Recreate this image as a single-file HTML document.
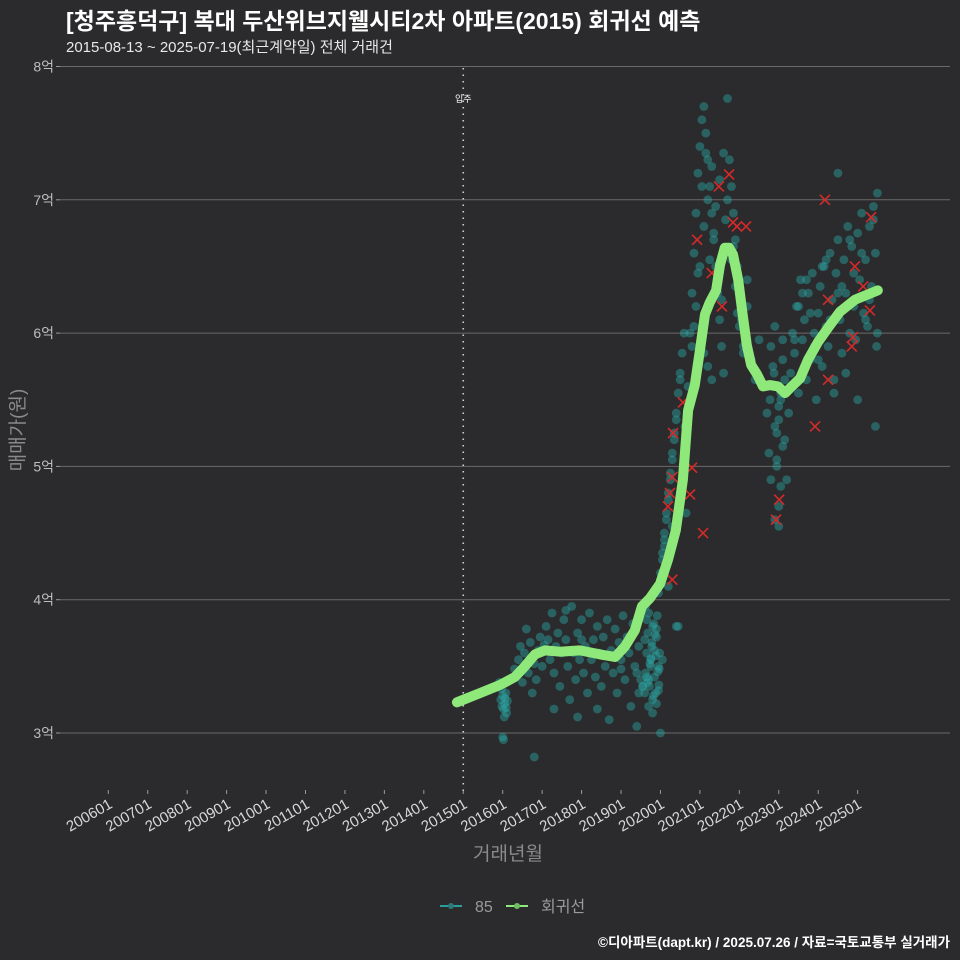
<!DOCTYPE html>
<html><head><meta charset="utf-8">
<style>
html,body{margin:0;padding:0;background:#2b2b2d;}
svg{display:block;font-family:"Liberation Sans","Noto Sans CJK KR",sans-serif;}
</style></head>
<body>
<svg id="chart" width="960" height="960" viewBox="0 0 960 960">
<rect x="0" y="0" width="960" height="960" fill="#2b2b2d"/>
<text x="66" y="29" font-size="23" font-weight="bold" fill="#ffffff">[청주흥덕구] 복대 두산위브지웰시티2차 아파트(2015) 회귀선 예측</text>
<text x="66" y="52" font-size="15" fill="#e8e8e8">2015-08-13 ~ 2025-07-19(최근계약일) 전체 거래건</text>
<g id="grid"></g>
<g id="yaxis"></g>
<g id="xaxis"></g>
<g id="marks"></g>
<text transform="translate(24,430) rotate(-90)" text-anchor="middle" font-size="19" fill="#8a8a8a">매매가(원)</text>
<text x="508" y="860" text-anchor="middle" font-size="19" fill="#8a8a8a">거래년월</text>
<g>
  <g>
    <line x1="440" y1="906" x2="462" y2="906" stroke="#2a9d9d" stroke-width="2"/>
    <circle cx="451" cy="906" r="3" fill="#2a7a7a"/>
    <text x="475" y="912" font-size="16" fill="#9a9a9a">85</text>
  </g>
  <g>
    <line x1="506" y1="906" x2="528" y2="906" stroke="#8ee87a" stroke-width="2"/>
    <circle cx="517" cy="906" r="3" fill="#6cc060"/>
    <text x="541" y="912" font-size="16" fill="#9a9a9a">회귀선</text>
  </g>
</g>
<text x="950" y="947" text-anchor="end" font-size="13.5" font-weight="bold" fill="#ffffff">©디아파트(dapt.kr) / 2025.07.26 / 자료=국토교통부 실거래가</text>
</svg>
<script>
const yTicks = [3, 4, 5, 6, 7, 8];
const xTickYears = [2006,2007,2008,2009,2010,2011,2012,2013,2014,2015,2016,2017,2018,2019,2020,2021,2022,2023,2024,2025];
const moveInYear = 2015.0;
const lineYears = [2014.84,2015.43,2015.93,2016.31,2016.56,2016.82,2017.07,2017.45,2017.96,2018.47,2018.85,2019.10,2019.35,2019.53,2019.73,2019.99,2020.19,2020.39,2020.57,2020.70,2020.87,2021.00,2021.13,2021.25,2021.41,2021.51,2021.63,2021.74,2021.84,2021.97,2022.07,2022.19,2022.30,2022.45,2022.60,2022.78,2022.98,2023.16,2023.33,2023.54,2023.74,2023.99,2024.25,2024.55,2024.93,2025.51];
const linePrices = [3.23,3.30,3.36,3.42,3.50,3.59,3.62,3.61,3.62,3.59,3.57,3.65,3.77,3.95,4.01,4.12,4.30,4.52,4.90,5.42,5.61,5.87,6.14,6.23,6.32,6.51,6.64,6.64,6.59,6.40,6.17,5.91,5.76,5.69,5.60,5.61,5.60,5.55,5.60,5.66,5.80,5.93,6.04,6.16,6.25,6.32];
const dealYears = [2015.95,2015.98,2016.0,2016.02,2016.05,2016.08,2016.1,2016.12,2015.97,2016.04,2016.0,2016.02,2015.92,2016.06,2016.09,
2016.3,2016.4,2016.5,2016.55,2016.65,2016.7,2016.8,2016.85,2016.9,2016.95,2017.0,2017.05,2016.75,2016.45,2016.6,2016.8,
2017.1,2017.15,2017.2,2017.25,2017.3,2017.35,2017.4,2017.45,2017.5,2017.55,2017.6,2017.65,2017.7,2017.75,2017.8,2017.85,2017.9,2017.95,2018.0,2018.05,2018.1,2018.15,2018.2,2018.25,2018.3,2018.35,2018.4,2018.45,2018.5,2018.55,2018.6,2018.65,2018.7,2018.75,2018.8,2018.85,2018.9,2018.95,2019.0,2019.05,2019.1,2019.15,2019.2,2019.25,2019.3,2019.35,2019.4,2019.45,2019.5,2019.55,2017.3,2017.9,2018.4,2017.2,2017.6,2018.0,2018.6,2019.0,
2019.6,2019.62,2019.65,2019.68,2019.7,2019.72,2019.75,2019.78,2019.8,2019.82,2019.85,2019.88,2019.9,2019.92,2019.95,2019.97,2019.6,2019.65,2019.7,2019.75,2019.8,2019.85,2019.9,2019.95,2019.62,2019.68,2019.73,2019.78,2019.83,2019.88,2019.93,2019.98,2019.66,2019.76,2019.86,2019.96,2019.7,2019.8,2019.9,2019.55,2019.5,2019.45,2019.4,2020.0,2020.05,2020.45,
2019.95,2020.0,2020.05,2020.1,2020.15,2020.2,2020.25,2020.3,2020.35,2020.4,2020.45,2020.5,2020.0,2020.05,2020.1,2020.15,2020.2,2020.25,2020.3,2020.35,2020.4,2020.5,2020.55,2020.6,2020.62,2020.65,2020.1,2020.2,2020.3,2020.4,
2020.7,2020.75,2020.8,2020.85,2020.9,2020.95,2021.0,2021.05,2021.1,2021.15,2021.2,2021.25,2021.3,2021.35,2021.4,2021.45,2021.5,2021.55,2021.6,2021.65,2021.7,2020.8,2020.9,2021.0,2021.1,2021.2,2021.3,2021.4,2021.5,2021.6,2021.7,2020.85,2020.95,2021.05,2021.15,2021.25,2021.35,2021.45,2021.55,2021.65,2021.2,2021.3,2021.1,
2021.75,2021.8,2021.85,2021.9,2021.95,2022.0,2022.05,2022.1,2022.15,2022.2,2021.8,2021.9,2022.0,2022.1,2022.2,2022.3,2022.4,2022.5,2021.85,2021.95,
2022.7,2022.75,2022.8,2022.85,2022.9,2022.95,2023.0,2023.05,2023.1,2023.15,2023.2,2022.8,2022.9,2023.0,2023.1,2022.85,2022.95,2023.05,2023.15,2022.9,2023.0,2022.95,2023.05,2022.88,2023.0,2023.1,2022.78,
2023.25,2023.3,2023.35,2023.4,2023.45,2023.5,2023.55,2023.6,2023.65,2023.7,2023.75,2023.8,2023.85,2023.9,2023.95,2024.0,2024.05,2024.1,2024.15,2024.2,2024.25,2024.3,2024.35,2024.4,2024.45,2024.5,2024.55,2024.6,2024.65,2024.7,2024.75,2024.8,2024.85,2024.9,2024.95,2025.0,2025.05,2025.1,2025.15,2025.2,2025.25,2025.3,2025.35,2025.4,2025.45,2025.5,2023.3,2023.5,2023.7,2023.9,2024.1,2024.3,2024.5,2024.7,2024.9,2025.1,2025.3,2025.5,2023.4,2023.6,2023.8,2024.0,2024.2,2024.4,2024.6,2024.8,2025.0,2025.2,2025.4,2024.5,2025.45,2025.48];
const dealPrices = [3.25,3.2,3.28,3.18,3.22,3.3,3.15,3.24,3.33,3.12,2.97,2.95,3.38,3.26,3.19,
3.48,3.55,3.38,3.6,3.45,3.68,3.52,3.4,3.62,3.72,3.5,3.66,3.3,3.65,3.78,2.82,
3.8,3.7,3.55,3.9,3.45,3.65,3.75,3.35,3.6,3.85,3.7,3.5,3.25,3.95,3.6,3.4,3.75,3.55,3.85,3.45,3.65,3.3,3.9,3.55,3.7,3.42,3.8,3.6,3.35,3.72,3.5,3.85,3.1,3.62,3.45,3.78,3.3,3.68,3.55,3.88,3.4,3.72,3.6,3.2,3.82,3.5,3.05,3.65,3.9,3.35,3.18,3.12,3.18,3.62,3.92,3.7,3.58,3.48,
3.3,3.45,3.6,3.75,3.9,3.35,3.5,3.65,3.8,3.28,3.42,3.58,3.72,3.88,3.32,3.48,3.7,3.85,3.4,3.55,3.25,3.62,3.78,3.5,3.95,3.38,3.52,3.68,3.82,3.3,3.46,3.6,3.42,3.56,3.74,3.36,3.2,3.15,3.22,3.35,3.4,3.3,3.45,3.0,3.55,3.8,
4.05,4.2,4.35,4.5,4.65,4.8,4.95,5.1,5.25,5.4,5.55,5.7,4.15,4.3,4.45,4.6,4.75,4.9,5.05,5.2,5.35,5.65,5.85,6.0,5.3,4.65,4.4,4.1,4.55,3.8,
5.6,6.0,6.3,6.6,6.9,7.2,7.4,7.6,7.7,7.5,7.3,7.1,6.9,6.7,6.5,6.3,6.1,5.9,5.7,6.6,7.0,5.9,6.2,6.5,6.8,7.0,7.25,6.95,7.15,7.35,7.76,6.05,6.45,7.1,7.35,6.55,6.75,6.4,6.25,6.85,5.75,5.65,5.85,
7.3,7.1,6.9,6.7,6.5,6.3,6.1,5.9,6.0,6.2,6.55,6.35,6.05,5.85,6.4,5.8,5.65,5.95,6.65,6.15,
5.4,5.1,4.9,5.6,5.3,5.0,4.7,5.5,5.8,5.2,4.9,5.9,6.05,5.45,5.15,5.75,5.25,4.85,5.65,4.6,5.35,5.05,5.55,5.7,4.55,5.95,5.5,
5.4,5.7,6.0,5.85,6.2,5.55,6.4,5.95,6.1,5.65,6.3,5.8,6.45,6.0,5.5,6.15,6.35,5.75,6.5,6.05,5.9,6.6,6.25,5.55,6.45,6.7,6.1,5.85,6.55,6.3,6.8,6.0,6.65,6.2,5.95,6.75,6.4,6.9,6.15,6.55,6.05,6.8,6.35,6.95,6.6,7.05,5.6,6.2,6.4,5.9,6.5,6.1,6.3,5.7,6.45,6.6,6.25,6.0,5.95,6.3,6.15,5.8,6.55,5.65,6.35,6.7,5.5,6.1,6.85,7.2,5.3,5.9];
const outlierYears = [2020.93,2021.30,2021.56,2021.48,2021.74,2021.84,2021.94,2022.17,2020.57,2020.32,2020.80,2020.30,2020.24,2020.19,2020.75,2021.08,2024.17,2025.34,2024.93,2025.14,2024.25,2025.31,2024.88,2024.85,2024.25,2023.92,2023.01,2022.93,2020.30];
const outlierPrices = [6.70,6.45,6.20,7.10,7.19,6.83,6.80,6.80,5.48,5.25,4.99,4.92,4.80,4.70,4.79,4.50,7.00,6.87,6.50,6.35,6.25,6.17,5.97,5.90,5.65,5.30,4.75,4.60,4.15];

const NS = "http://www.w3.org/2000/svg";
const xScale = yr => 108.3 + (yr - 2006) * 39.44;
const yScale = p => 733 - (p - 3) * 133.3;
function mk(tag, attrs, parent){ const e=document.createElementNS(NS,tag); for(const k in attrs) e.setAttribute(k,attrs[k]); parent.appendChild(e); return e; }
const grid=document.getElementById('grid'), yaxis=document.getElementById('yaxis'), xaxis=document.getElementById('xaxis'), marks=document.getElementById('marks');

yTicks.forEach(v=>{
  const y=yScale(v);
  const gl=mk('line',{x1:60,x2:950,y1:y,y2:y,stroke:'#6a6a6a','stroke-width':1},grid);
  
  
  mk('line',{x1:56,x2:60,y1:y,y2:y,stroke:'#9a9a9a'},yaxis);
  const t=mk('text',{x:54,y:y+5,'text-anchor':'end','font-size':14,fill:'#bdbdbd'},yaxis);
  t.textContent=v+'억';
  
  
});
xTickYears.forEach(yr=>{
  const x=xScale(yr);
  mk('line',{x1:x,x2:x,y1:790,y2:794,stroke:'#9a9a9a'},xaxis);
  const t=mk('text',{transform:`translate(${x+5},807) rotate(-30)`,'text-anchor':'end','font-size':15,fill:'#d8d8d8'},xaxis);
  t.textContent=yr+'01';
  
  
});
const mx=xScale(moveInYear);
const ml=mk('line',{x1:mx,x2:mx,y1:68,y2:792,stroke:'#cfcfcf','stroke-width':1.6,'stroke-dasharray':'1.5 5'},marks);


const mt=mk('text',{x:mx,y:102,'text-anchor':'middle','font-size':9,fill:'#ffffff'},marks);
mt.textContent='입주';



dealYears.forEach((yr,i)=>{
  const c=mk('circle',{cx:xScale(yr),cy:yScale(dealPrices[i]),r:4.4,fill:'#2aa7a4','fill-opacity':0.45},marks);
  
  
});
outlierYears.forEach((yr,i)=>{
  const x=xScale(yr), y=yScale(outlierPrices[i]);
  const p=mk('path',{d:`M${x-5},${y-5}L${x+5},${y+5}M${x+5},${y-5}L${x-5},${y+5}`,stroke:'#d42a2a','stroke-width':1.6,fill:'none'},marks);
  
  
});
const d=lineYears.map((yr,i)=>(i?'L':'M')+xScale(yr).toFixed(1)+','+yScale(linePrices[i]).toFixed(1)).join('');
const rl=mk('path',{d:d,stroke:'#8ee87a','stroke-width':10,fill:'none','stroke-linecap':'round','stroke-linejoin':'round'},marks);


</script>
</body></html>
